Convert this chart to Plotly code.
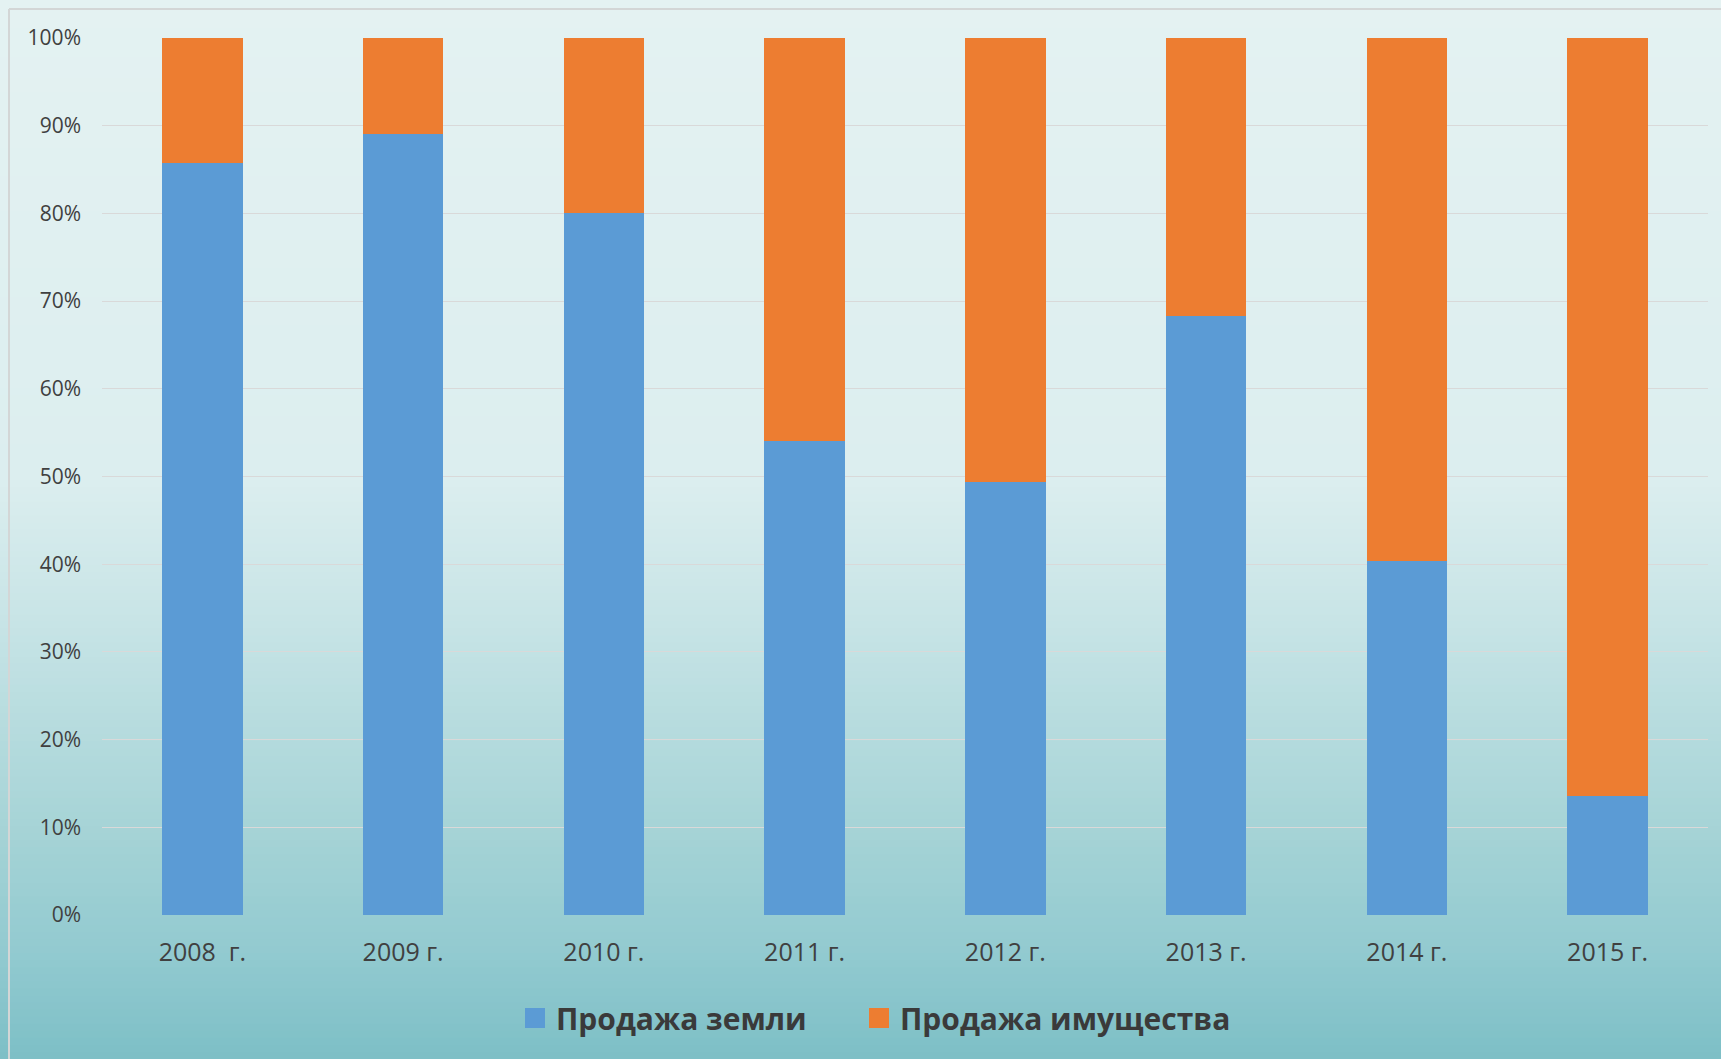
import plotly.graph_objects as go

# ---- data ----
years = ["2008  г.", "2009 г.", "2010 г.", "2011 г.", "2012 г.", "2013 г.", "2014 г.", "2015 г."]
land_sales = [85.8, 89.1, 80.0, 54.0, 49.4, 68.3, 40.4, 13.6]
property_sales = [14.2, 10.9, 20.0, 46.0, 50.6, 31.7, 59.6, 86.4]
series_names = ["Продажа земли", "Продажа имущества"]
y_ticks = [0, 10, 20, 30, 40, 50, 60, 70, 80, 90, 100]

BLUE = "#5B9BD5"
ORANGE = "#ED7D31"

W, H = 1721, 1059
L, R, T, B = 102, 13, 38, 144
PW, PH = W - L - R, H - T - B


def px_x(px):
    return (px - L) / PW


def px_y(py):
    return (H - B - py) / PH


fig = go.Figure()
fig.add_trace(go.Bar(x=years, y=land_sales, name=series_names[0], marker_color=BLUE,
                     marker_line_width=0, showlegend=False))
fig.add_trace(go.Bar(x=years, y=property_sales, name=series_names[1], marker_color=ORANGE,
                     marker_line_width=0, showlegend=False))

shapes = []
# vertical gradient background
stops = [(0.0, (228, 242, 242)), (0.45, (220, 238, 239)), (0.6, (197, 227, 229)),
         (0.8, (163, 210, 213)), (0.9, (146, 202, 208)), (1.0, (125, 191, 198))]


def grad(t):
    for (t0, c0), (t1, c1) in zip(stops[:-1], stops[1:]):
        if t0 <= t <= t1:
            f = (t - t0) / (t1 - t0) if t1 > t0 else 0
            return tuple(round(c0[i] + (c1[i] - c0[i]) * f) for i in range(3))
    return stops[-1][1]


N = 150
for i in range(N):
    y0 = H * i / N
    y1 = H * (i + 1) / N + 1
    c = grad((i + 0.5) / N)
    shapes.append(dict(type="rect", xref="paper", yref="paper", layer="below",
                       x0=px_x(-5), x1=px_x(W + 5), y0=px_y(y1), y1=px_y(y0),
                       fillcolor="rgb(%d,%d,%d)" % c, line=dict(width=0)))

# chart frame lines (top and left)
shapes.append(dict(type="line", xref="paper", yref="paper", layer="below",
                   x0=px_x(9), x1=px_x(W + 5), y0=px_y(9), y1=px_y(9),
                   line=dict(color="#D3D6D6", width=2)))
shapes.append(dict(type="line", xref="paper", yref="paper", layer="below",
                   x0=px_x(9), x1=px_x(9), y0=px_y(9), y1=px_y(H + 5),
                   line=dict(color="#D3D6D6", width=2)))

# manual legend
legend_y = 1018
legend_items = [(525, 554, BLUE, series_names[0]), (869, 898, ORANGE, series_names[1])]
annotations = []
for mx, tx, col, name in legend_items:
    shapes.append(dict(type="rect", xref="paper", yref="paper",
                       x0=px_x(mx), x1=px_x(mx + 20), y0=px_y(legend_y + 10), y1=px_y(legend_y - 10),
                       fillcolor=col, line=dict(width=0)))
    annotations.append(dict(xref="paper", yref="paper", x=px_x(tx), y=px_y(legend_y),
                            xanchor="left", yanchor="middle", showarrow=False, text="<b>%s</b>" % name,
                            font=dict(family="Open Sans", size=30, color="#3A3A3A")))

fig.update_layout(
    width=W, height=H,
    margin=dict(l=L, r=R, t=T, b=B, pad=0),
    barmode="stack",
    bargap=0.6,
    paper_bgcolor="#E4F2F2",
    plot_bgcolor="rgba(0,0,0,0)",
    shapes=shapes,
    annotations=annotations,
    showlegend=False,
    font=dict(family="Open Sans", color="#404040"),
)
fig.update_yaxes(range=[0, 100], tickvals=y_ticks, ticktext=["%d%%" % v for v in y_ticks],
                 showgrid=True, gridcolor="#D9D9D9", gridwidth=1, zeroline=False,
                 showline=False, ticks="", ticklabelstandoff=20,
                 tickfont=dict(family="Open Sans", size=21, color="#404040"))
fig.update_xaxes(showgrid=False, showline=False, ticks="", ticklabelstandoff=20,
                 tickfont=dict(family="Open Sans", size=25, color="#404040"))

fig.write_html("out.html", config={"displayModeBar": False},
               post_script="document.body.style.margin='0px';")
